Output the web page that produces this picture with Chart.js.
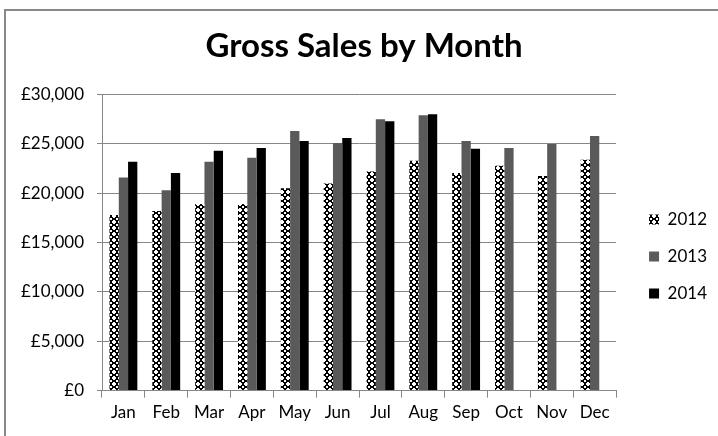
<!DOCTYPE html>
<html>
<head>
<meta charset="utf-8">
<script src="https://cdn.jsdelivr.net/npm/chart.js@4"></script>
<style>
  html, body { margin: 0; padding: 0; background: #fff; }
  #wrap { position: relative; width: 718px; height: 436px; overflow: hidden; }
  #frame { position: absolute; left: 4px; top: 9px; width: 800px; height: 600px;
           border-left: 2px solid #888; border-top: 2px solid #888; box-sizing: border-box; }
  canvas { position: absolute; left: 0; top: 0; }
</style>
</head>
<body>
<div id="wrap">
  <div id="frame"></div>
  <canvas id="c" width="718" height="436"></canvas>
</div>
<script>
const titleText = "Gross Sales by Month";
const months = ["Jan","Feb","Mar","Apr","May","Jun","Jul","Aug","Sep","Oct","Nov","Dec"];
const seriesNames = ["2012","2013","2014"];
const sales2012 = [17800, 18200, 18900, 18900, 20500, 21000, 22200, 23300, 22050, 22800, 21750, 23400];
const sales2013 = [21600, 20300, 23200, 23600, 26300, 25100, 27500, 27900, 25300, 24600, 25000, 25800];
const sales2014 = [23200, 22050, 24300, 24600, 25300, 25600, 27300, 28000, 24500, null, null, null];
const yMin = 0, yMax = 30000, yStep = 5000;

function makePattern() {
  const p = document.createElement('canvas');
  p.width = 6; p.height = 6;
  const g = p.getContext('2d');
  g.fillStyle = '#fff'; g.fillRect(0, 0, 6, 6);
  const rows = ["001100","011110","110011","110011","011110","001100"];
  g.fillStyle = '#000';
  rows.forEach((r, y) => { for (let x = 0; x < 6; x++) if (r[x] === '1') g.fillRect(x, y, 1, 1); });
  return document.getElementById('c').getContext('2d').createPattern(p, 'repeat');
}

const FONT = "Lato, 'Open Sans', sans-serif";
const gridColor = '#868686';

new Chart(document.getElementById('c'), {
  type: 'bar',
  data: {
    labels: months,
    datasets: [
      { label: seriesNames[0], data: sales2012, backgroundColor: makePattern(), borderWidth: 0 },
      { label: seriesNames[1], data: sales2013, backgroundColor: '#5a5a5a', borderWidth: 0 },
      { label: seriesNames[2], data: sales2014, backgroundColor: '#000000', borderWidth: 0 }
    ]
  },
  options: {
    responsive: false,
    animation: false,
    devicePixelRatio: 1,
    layout: { padding: { left: 11, right: 1, top: 0, bottom: 8 } },
    datasets: { bar: { categoryPercentage: 0.65, barPercentage: 1.0 } },
    plugins: {
      title: {
        display: true, text: titleText, color: '#000',
        font: { family: FONT, size: 33, weight: 'bold' },
        padding: { top: 27, bottom: 28 }
      },
      legend: {
        position: 'right',
        title: { display: true, text: ' ', padding: { top: 30, bottom: 31 }, font: { family: FONT, size: 20 } },
        labels: {
          color: '#000', font: { family: FONT, size: 17 },
          boxWidth: 10, boxHeight: 10, padding: 20
        }
      },
      tooltip: { enabled: false }
    },
    scales: {
      x: {
        grid: { display: true, drawOnChartArea: false, drawTicks: true, tickLength: 7, color: gridColor, offset: true },
        border: { display: true, color: gridColor, width: 1 },
        ticks: { color: '#000', font: { family: FONT, size: 17 }, padding: 5, maxRotation: 0 }
      },
      y: {
        min: yMin, max: yMax,
        grid: { color: gridColor, tickLength: 5, drawTicks: true },
        border: { display: true, color: gridColor, width: 1 },
        ticks: {
          stepSize: yStep, color: '#000', font: { family: FONT, size: 17 }, padding: 13,
          callback: v => '£' + Number(v).toLocaleString('en-GB')
        },
        afterFit: s => { s.width = 91; }
      },
      yR: {
        position: 'right', display: true,
        grid: { display: false }, border: { display: false },
        ticks: { display: false },
        afterFit: s => { s.width = 13; }
      }
    }
  }
});
</script>
</body>
</html>
